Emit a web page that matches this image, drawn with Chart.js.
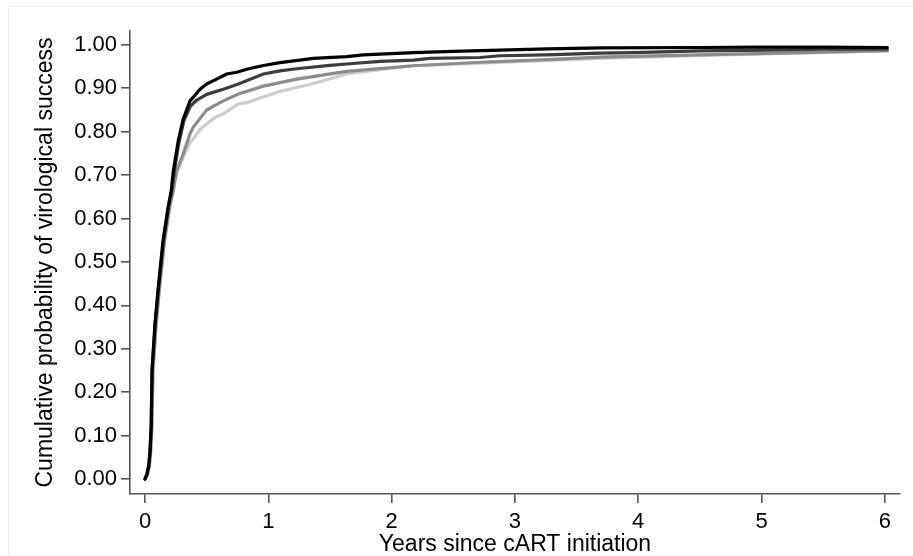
<!DOCTYPE html>
<html>
<head>
<meta charset="utf-8">
<title>Cumulative probability of virological success</title>
<script src="https://cdn.jsdelivr.net/npm/chart.js@4.4.1/dist/chart.umd.min.js"></script>
<style>
    html, body { margin: 0; padding: 0; background: #fff; }
    #wrap { position: relative; width: 913px; height: 556px; overflow: hidden; }
    #frame { position: absolute; left: 8px; top: 6px; right: -2px; bottom: -2px; border: 1px solid #e6eeee; pointer-events: none; }
    canvas { position: absolute; left: 0; top: 0; }
</style>
</head>
<body>
<div id="wrap">
    <canvas id="kmChart" width="913" height="556"></canvas>
    <div id="frame"></div>
</div>
<script>
// years since cART initiation / cumulative probability
const blackYears = [0, 0.015, 0.03, 0.04, 0.05, 0.057, 0.08, 0.105, 0.146, 0.187, 0.213, 0.23, 0.27, 0.31, 0.365, 0.39, 0.446, 0.5, 0.58, 0.663, 0.744, 0.825, 0.95, 1.095, 1.365, 1.635, 1.77, 2.176, 2.5, 2.88, 3.26, 3.69, 4.5, 5.0, 5.5, 6.02];
const blackProb  = [0, 0.01, 0.03, 0.06, 0.12, 0.25, 0.355, 0.434, 0.549, 0.626, 0.664, 0.71, 0.78, 0.829, 0.871, 0.879, 0.898, 0.910, 0.921, 0.933, 0.937, 0.944, 0.952, 0.959, 0.969, 0.973, 0.977, 0.982, 0.985, 0.988, 0.991, 0.993, 0.994, 0.995, 0.995, 0.994];

const darkYears = [0, 0.015, 0.03, 0.04, 0.05, 0.058, 0.082, 0.108, 0.15, 0.19, 0.216, 0.235, 0.275, 0.315, 0.365, 0.39, 0.42, 0.5, 0.635, 0.757, 0.96, 1.095, 1.23, 1.5, 1.635, 1.906, 2.176, 2.31, 2.717, 2.88, 3.26, 3.69, 3.96, 4.5, 5.04, 5.5, 6.02];
const darkProb  = [0, 0.01, 0.03, 0.06, 0.12, 0.25, 0.355, 0.434, 0.549, 0.626, 0.664, 0.705, 0.775, 0.825, 0.857, 0.865, 0.873, 0.886, 0.898, 0.910, 0.933, 0.940, 0.945, 0.953, 0.956, 0.962, 0.965, 0.969, 0.971, 0.975, 0.977, 0.981, 0.982, 0.986, 0.988, 0.990, 0.990];

const midYears = [0, 0.018, 0.035, 0.045, 0.055, 0.064, 0.09, 0.115, 0.158, 0.2, 0.228, 0.257, 0.31, 0.365, 0.39, 0.5, 0.635, 0.757, 0.96, 1.095, 1.23, 1.635, 2.176, 2.717, 3.26, 3.69, 4.5, 5.31, 6.02];
const midProb  = [0, 0.01, 0.03, 0.06, 0.12, 0.25, 0.355, 0.434, 0.549, 0.626, 0.664, 0.71, 0.749, 0.795, 0.81, 0.850, 0.871, 0.887, 0.905, 0.913, 0.921, 0.939, 0.952, 0.960, 0.966, 0.972, 0.977, 0.982, 0.987];

const lightYears = [0, 0.018, 0.035, 0.045, 0.055, 0.064, 0.09, 0.115, 0.158, 0.2, 0.228, 0.257, 0.31, 0.365, 0.39, 0.446, 0.5, 0.58, 0.635, 0.757, 0.825, 1.095, 1.365, 1.635, 1.906, 2.176, 2.717, 3.69, 4.5, 5.3, 6.02];
const lightProb  = [0, 0.01, 0.03, 0.06, 0.12, 0.25, 0.355, 0.434, 0.549, 0.626, 0.664, 0.705, 0.741, 0.775, 0.783, 0.805, 0.818, 0.835, 0.841, 0.864, 0.867, 0.893, 0.911, 0.933, 0.943, 0.952, 0.958, 0.969, 0.976, 0.981, 0.986];

const xTicks = [0, 1, 2, 3, 4, 5, 6];
const yTicks = [0, 0.1, 0.2, 0.3, 0.4, 0.5, 0.6, 0.7, 0.8, 0.9, 1.0];

function toPoints(xs, ys) {
    return xs.map((x, i) => ({ x: x, y: ys[i] }));
}

function curve(xs, ys, color) {
    return {
        data: toPoints(xs, ys),
        borderColor: color,
        backgroundColor: color,
        borderWidth: 3.2,
        borderJoinStyle: 'round',
        borderCapStyle: 'round',
        pointRadius: 0,
        tension: 0,
        fill: false
    };
}

const fontFamily = '"Liberation Sans", Arial, sans-serif';
const axisColor = '#555';

document.addEventListener('DOMContentLoaded', () => {
    const ctx = document.getElementById('kmChart').getContext('2d');
    new Chart(ctx, {
        type: 'line',
        data: {
            datasets: [
                curve(blackYears, blackProb, '#000000'),
                curve(darkYears, darkProb, '#3d3d3d'),
                curve(midYears, midProb, '#8c8c8c'),
                curve(lightYears, lightProb, '#cdcdcd')
            ]
        },
        options: {
            responsive: false,
            animation: false,
            layout: { padding: { left: 0, right: 13, top: 31, bottom: 0 } },
            plugins: {
                legend: { display: false },
                tooltip: { enabled: false }
            },
            scales: {
                x: {
                    type: 'linear',
                    min: -0.1217,
                    max: 6.123,
                    afterFit: scale => { scale.height = 62; },
                    afterBuildTicks: scale => { scale.ticks = xTicks.map(v => ({ value: v })); },
                    border: { display: true, color: axisColor, width: 1.6 },
                    grid: { display: true, drawOnChartArea: false, drawTicks: true, tickLength: 9, color: axisColor, lineWidth: 1.6 },
                    ticks: {
                        color: '#000',
                        padding: 6,
                        maxRotation: 0,
                        font: { family: fontFamily, size: 22 },
                        callback: v => String(v)
                    },
                    title: {
                        display: true,
                        text: 'Years since cART initiation',
                        color: '#000',
                        font: { family: fontFamily, size: 23, lineHeight: 1 },
                        padding: { top: 0, bottom: 0 }
                    }
                },
                y: {
                    type: 'linear',
                    min: -0.0346,
                    max: 1.032,
                    afterFit: scale => { scale.width = 130; },
                    afterBuildTicks: scale => { scale.ticks = yTicks.map(v => ({ value: v })); },
                    border: { display: true, color: axisColor, width: 1.6 },
                    grid: { display: true, drawOnChartArea: false, drawTicks: true, tickLength: 9, color: axisColor, lineWidth: 1.6 },
                    ticks: {
                        color: '#000',
                        padding: 4,
                        font: { family: fontFamily, size: 22 },
                        callback: v => v.toFixed(2)
                    },
                    title: {
                        display: true,
                        text: 'Cumulative probability of virological success',
                        color: '#000',
                        font: { family: fontFamily, size: 23, lineHeight: 1 },
                        padding: { top: 34.5, bottom: 0 }
                    }
                }
            }
        }
    });
});
</script>
</body>
</html>
